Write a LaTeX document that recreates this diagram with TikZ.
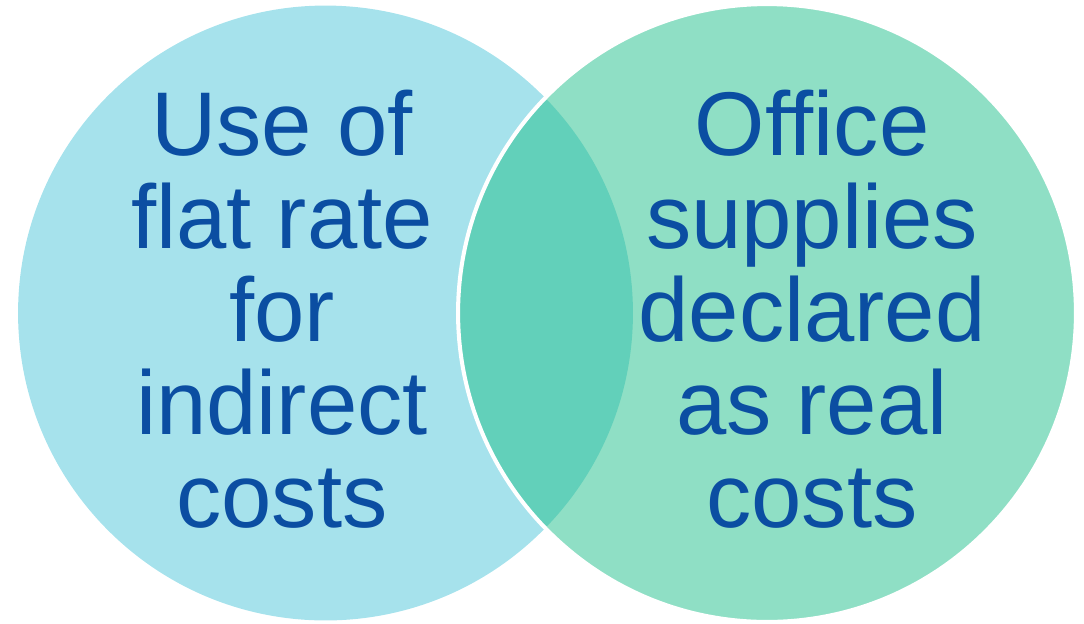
\documentclass[tikz,border=0pt]{standalone}
\usepackage{fontspec}
\setmainfont{Liberation Sans}
\definecolor{leftblue}{HTML}{A6E2EC}
\definecolor{rightgreen}{HTML}{8FDFC5}
\definecolor{overlapgreen}{HTML}{62D0BA}
\definecolor{textblue}{HTML}{0B4EA2}
\tikzset{
	venntext/.style={align=center, inner sep=0pt, text=textblue, font=\fontsize{51.5pt}{52.9pt}\selectfont}
}
\begin{document}
\begin{tikzpicture}[x=0.02cm, y=-0.02cm]
			\useasboundingbox (0,0) rectangle (1084,623);

			\draw node[circle, fill=leftblue, minimum size=12.3cm, inner sep=0pt] (left) at (325.5,313) {};
			\draw node[circle, fill=rightgreen, minimum size=12.36cm, inner sep=0pt] (right) at (767,313) {};

			\begin{scope}
				\clip (left.center) circle[radius=6.15cm];
				\fill[overlapgreen] (right.center) circle[radius=6.18cm];
			\end{scope}
			\draw[white, line width=2.3pt] (right.center) circle[radius=6.18cm];

			\node[venntext] (lefttext) at (282,309) {Use of\\flat rate\\for\\indirect\\costs};
			\node[venntext] (righttext) at (812,309) {Office\\supplies\\declared\\as real\\costs};
		\end{tikzpicture}
\end{document}
